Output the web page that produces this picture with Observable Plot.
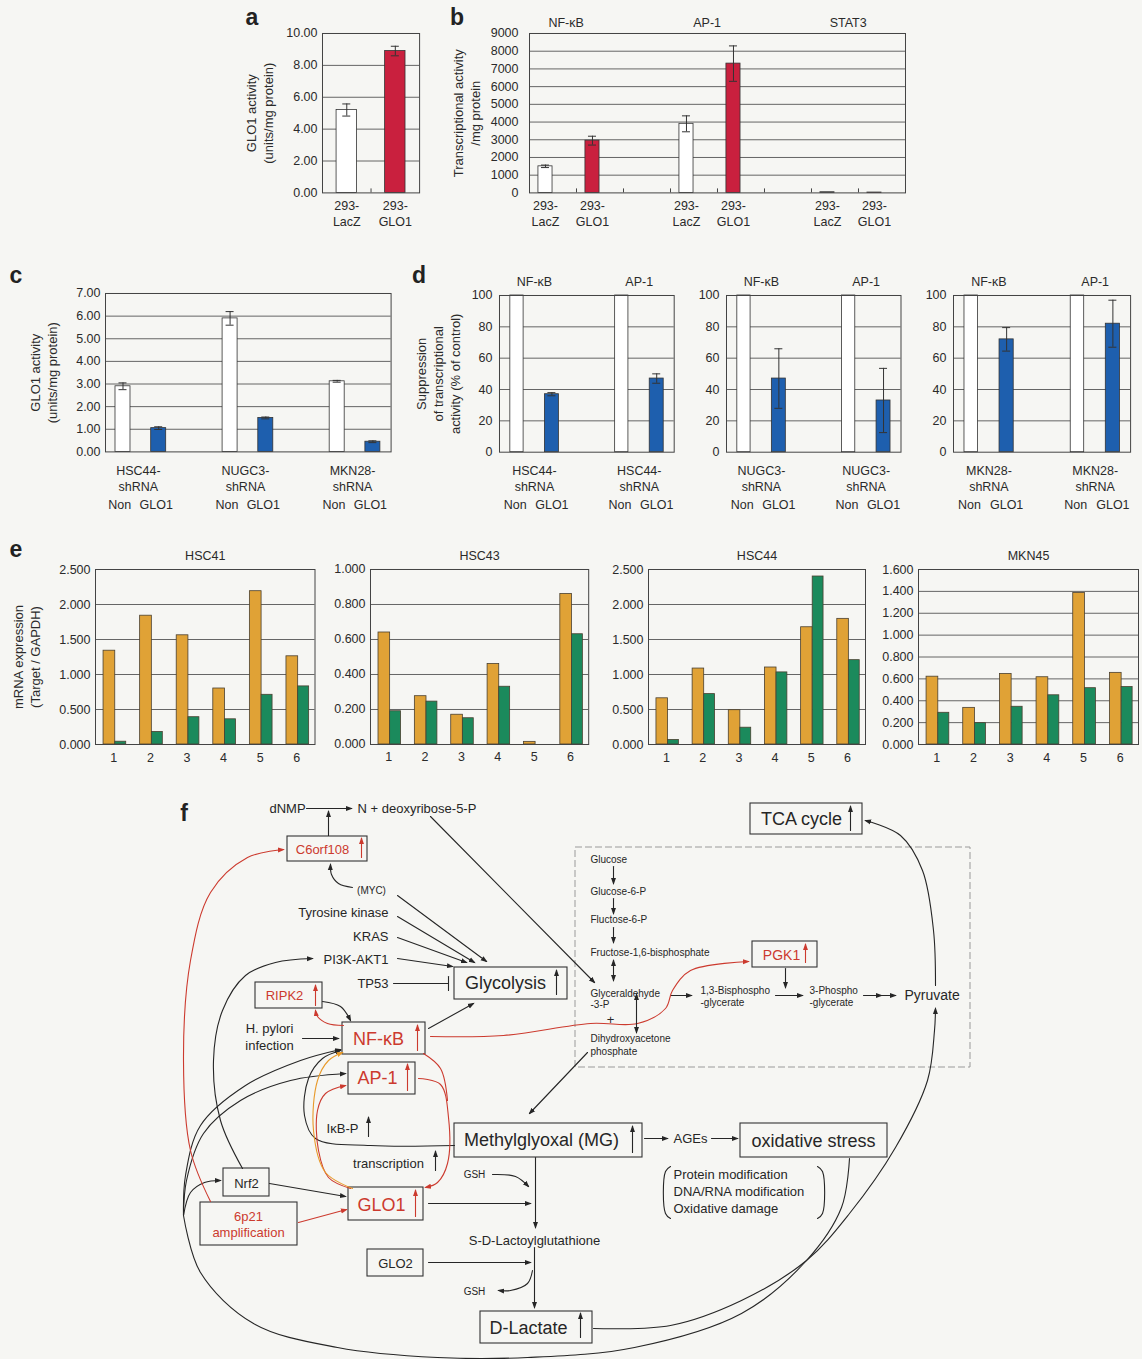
<!DOCTYPE html>
<html>
<head>
<meta charset="utf-8">
<script src="https://cdn.jsdelivr.net/npm/d3@7"></script>
<script src="https://cdn.jsdelivr.net/npm/@observablehq/plot@0.6"></script>
<style>
  html, body { margin: 0; padding: 0; background: #f6f6f3; overflow: hidden; }
  #page { position: relative; width: 1142px; height: 1359px; font-family: "Liberation Sans", Arial, Helvetica, sans-serif; color: #222; }
  .letter { position: absolute; font-weight: bold; font-size: 23px; line-height: 1; transform: translate(-50%, -50%); }
  svg { overflow: visible; }
</style>
</head>
<body>
<div id="page"></div>
<script>
// ---------------- DATA ----------------
// panel a
const aCats = ["293-\nLacZ", "293-\nGLO1"];
const aValues = [5.2, 8.9];
const aErrors = [0.38, 0.3];
// panel b
const bFactors = ["NF-κB", "AP-1", "STAT3"];
const bCells = ["293-\nLacZ", "293-\nGLO1"];
const bLacZ = [1500, 3900, 40];
const bLacZErr = [70, 450, 0];
const bGLO1 = [2950, 7300, 20];
const bGLO1Err = [250, 1000, 0];
// panel c
const cLines = ["HSC44-\nshRNA", "NUGC3-\nshRNA", "MKN28-\nshRNA"];
const cConds = ["Non", "GLO1"];
const cNon = [2.9, 5.9, 3.12];
const cNonErr = [0.15, 0.3, 0.04];
const cSh = [1.05, 1.5, 0.45];
const cShErr = [0.06, 0.04, 0.04];
// panel d
const dLines = ["HSC44-\nshRNA", "NUGC3-\nshRNA", "MKN28-\nshRNA"];
const dFactors = ["NF-κB", "AP-1"];
const dControl = 100;
const dNFkB = [37, 47, 72];
const dNFkBErr = [1, 19, 7.5];
const dAP1 = [47, 33, 82];
const dAP1Err = [3, 20.5, 15];
// panel e
const eLines = ["HSC41", "HSC43", "HSC44", "MKN45"];
const eSamples = ["1", "2", "3", "4", "5", "6"];
const eHSC41Orange = [1.34, 1.84, 1.56, 0.80, 2.19, 1.26];
const eHSC41Green  = [0.04, 0.18, 0.39, 0.36, 0.71, 0.83];
const eHSC43Orange = [0.64, 0.276, 0.17, 0.46, 0.015, 0.86];
const eHSC43Green  = [0.19, 0.245, 0.15, 0.33, 0, 0.63];
const eHSC44Orange = [0.66, 1.085, 0.49, 1.10, 1.675, 1.795];
const eHSC44Green  = [0.065, 0.72, 0.24, 1.03, 2.40, 1.205];
const eMKN45Orange = [0.62, 0.335, 0.645, 0.615, 1.385, 0.655];
const eMKN45Green  = [0.29, 0.195, 0.345, 0.45, 0.515, 0.525];
const eMax = [2.5, 1.0, 2.5, 1.6];
const eStep = [0.5, 0.2, 0.5, 0.2];

// panel f (diagram) : node texts, boxes and links
const fTextMiddle = [
  {t:"dNMP", x:287, y:808, s:13}, {t:"C6orf108", x:322, y:849, s:13, c:"red"},
  {t:"(MYC)", x:371, y:890, s:10}, {t:"Glycolysis", x:505, y:983, s:18},
  {t:"RIPK2", x:284, y:995, s:13, c:"red"}, {t:"H. pylori", x:269, y:1028, s:13},
  {t:"infection", x:269, y:1045, s:13}, {t:"NF-κB", x:378, y:1039, s:18, c:"red"},
  {t:"AP-1", x:377, y:1078, s:18, c:"red"}, {t:"IκB-P", x:342, y:1128, s:13},
  {t:"transcription", x:388, y:1163, s:13}, {t:"Methylglyoxal (MG)", x:541, y:1140, s:18},
  {t:"AGEs", x:690, y:1138, s:13}, {t:"oxidative stress", x:813, y:1141, s:18},
  {t:"GLO1", x:381, y:1205, s:18, c:"red"}, {t:"Nrf2", x:246, y:1183, s:13},
  {t:"6p21", x:248, y:1216, s:13, c:"red"}, {t:"amplification", x:248, y:1232, s:13, c:"red"},
  {t:"GSH", x:474, y:1174, s:10}, {t:"GSH", x:474, y:1291, s:10},
  {t:"S-D-Lactoylglutathione", x:534, y:1240, s:13}, {t:"GLO2", x:395, y:1263, s:13},
  {t:"D-Lactate", x:528, y:1328, s:18}, {t:"TCA cycle", x:801, y:819, s:18},
  {t:"PGK1", x:781, y:955, s:14, c:"red"}, {t:"+", x:610, y:1019, s:13}
];
const fTextStart = [
  {t:"N + deoxyribose-5-P", x:357, y:808, s:13},
  {t:"Protein modification", x:673, y:1174, s:13}, {t:"DNA/RNA modification", x:673, y:1191, s:13},
  {t:"Oxidative damage", x:673, y:1208, s:13},
  {t:"Glucose", x:590, y:859, s:10}, {t:"Glucose-6-P", x:590, y:891, s:10},
  {t:"Fluctose-6-P", x:590, y:919, s:10}, {t:"Fructose-1,6-bisphosphate", x:590, y:952, s:10},
  {t:"Glyceraldehyde", x:590, y:993, s:10}, {t:"-3-P", x:590, y:1004, s:10},
  {t:"Dihydroxyacetone", x:590, y:1038, s:10}, {t:"phosphate", x:590, y:1051, s:10},
  {t:"1,3-Bisphospho", x:700, y:990, s:10}, {t:"-glycerate", x:700, y:1002, s:10},
  {t:"3-Phospho", x:809, y:990, s:10}, {t:"-glycerate", x:809, y:1002, s:10},
  {t:"Pyruvate", x:904, y:995, s:14}
];
const fTextEnd = [
  {t:"Tyrosine kinase", x:388, y:912, s:13}, {t:"KRAS", x:388, y:936, s:13},
  {t:"PI3K-AKT1", x:388, y:959, s:13}, {t:"TP53", x:388, y:983, s:13}
];
const fBoxes = [
  {x1:287, y1:836, x2:367, y2:861}, {x1:454, y1:967, x2:567, y2:999},
  {x1:255, y1:982, x2:322, y2:1008}, {x1:342, y1:1022, x2:425, y2:1054},
  {x1:348, y1:1062, x2:415, y2:1094}, {x1:454, y1:1123, x2:642, y2:1157},
  {x1:740, y1:1123, x2:887, y2:1157}, {x1:348, y1:1187, x2:423, y2:1220},
  {x1:223, y1:1168, x2:269, y2:1196}, {x1:200, y1:1202, x2:297, y2:1245},
  {x1:367, y1:1249, x2:423, y2:1276}, {x1:480, y1:1311, x2:592, y2:1343},
  {x1:750, y1:803, x2:862, y2:834}, {x1:752, y1:941, x2:817, y2:967}
];
const fGlycolysisFrame = [{x1:575, y1:847, x2:970, y2:1067}];
const fLinks = [
  // black, arrow at end
  {a:"end", pts:[[306,808],[351,808]]},
  {a:"end", pts:[[328,835],[328,811]]},
  {a:"end", pts:[[352,887],[338,883],[331,874],[330,864]]},
  {a:"end", pts:[[397,895],[486,961]]},
  {a:"end", pts:[[397,916],[474,962]]},
  {a:"end", pts:[[397,937],[466,962]]},
  {a:"end", pts:[[397,958],[452,966]]},
  {a:"none", pts:[[393,983],[448,983]]},
  {a:"none", pts:[[448,976],[448,990]]},
  {a:"end", pts:[[322,1001],[340,1006],[350,1020]]},
  {a:"end", pts:[[302,1038],[338,1038]]},
  {a:"end", pts:[[428,1028],[473,1003]]},
  {a:"end", pts:[[430,816],[594,982]]},
  {a:"end", pts:[[587,1052],[529,1113]]},
  {a:"end", pts:[[613,866],[613,883]]},
  {a:"end", pts:[[613,898],[613,913]]},
  {a:"end", pts:[[613,927],[613,942]]},
  {a:"both", pts:[[613,960],[613,980]]},
  {a:"both", pts:[[636,994],[636,1032]]},
  {a:"end", pts:[[670,995],[691,995]]},
  {a:"end", pts:[[785,968],[785,987]]},
  {a:"end", pts:[[775,995],[802,995]]},
  {a:"end", pts:[[863,995],[881,995]]},
  {a:"end", pts:[[878,995],[895,995]]},
  {a:"end", pts:[[935,985],[933,930],[922,870],[900,835],[865,820]]},
  {a:"end", pts:[[593,1328],[670,1325],[741,1300],[806,1260],[849,1213],[895,1147],[927,1080],[934,1030],[935,1008]]},
  {a:"none", pts:[[849,1158],[841,1207],[806,1260],[741,1313],[634,1347],[527,1357],[437,1357],[337,1347],[253,1323],[200,1272],[183,1215]]},
  {a:"end", pts:[[183,1215],[190,1192],[204,1182],[220,1180]]},
  {a:"end", pts:[[183,1215],[186,1180],[203,1133],[240,1100],[290,1080],[345,1073]]},
  {a:"end", pts:[[183,1215],[185,1175],[200,1125],[245,1085],[300,1060],[340,1049]]},
  {a:"end", pts:[[242,1168],[220,1120],[213,1060],[222,1010],[245,975],[275,962],[312,958]]},
  {a:"end", pts:[[269,1183],[345,1196]]},
  {a:"end", pts:[[454,1145],[370,1145],[315,1138],[304,1115],[308,1078],[322,1058],[340,1050]]},
  {a:"end", pts:[[492,1174],[515,1176],[528,1186]]},
  {a:"end", pts:[[535,1157],[535,1227]]},
  {a:"end", pts:[[428,1203],[530,1203]]},
  {a:"end", pts:[[428,1262],[530,1262]]},
  {a:"end", pts:[[534,1247],[534,1307]]},
  {a:"end", pts:[[532,1270],[527,1283],[510,1290],[498,1290]]},
  {a:"end", pts:[[644,1138],[667,1138]]},
  {a:"end", pts:[[711,1138],[737,1138]]},
  {a:"none", pts:[[670,1166],[665,1171],[665,1213],[670,1218]]},
  {a:"none", pts:[[817,1166],[822,1171],[822,1213],[817,1218]]},
  // black up-arrows in boxes
  {a:"end", pts:[[556,994],[556,970]]},
  {a:"end", pts:[[632,1152],[632,1126]]},
  {a:"end", pts:[[580,1337],[580,1313]]},
  {a:"end", pts:[[850,830],[850,806]]},
  {a:"end", pts:[[368,1136],[368,1117]]},
  {a:"end", pts:[[435,1170],[435,1151]]},
  // red links
  {a:"end", c:"red", pts:[[361,857],[361,838]]},
  {a:"end", c:"red", pts:[[315,1005],[315,985]]},
  {a:"end", c:"red", pts:[[417,1050],[417,1025]]},
  {a:"end", c:"red", pts:[[407,1090],[407,1064]]},
  {a:"end", c:"red", pts:[[415,1216],[415,1190]]},
  {a:"end", c:"red", pts:[[805,962],[805,944]]},
  {a:"end", c:"red", pts:[[210,1201],[190,1150],[183,1060],[190,960],[210,892],[247,857],[283,849]]},
  {a:"end", c:"red", pts:[[430,1036],[503,1035],[590,1023],[637,1023],[665,1008],[672,990],[690,970],[748,961]]},
  {a:"end", c:"red", pts:[[343,1025],[327,1023],[317,1016],[315,1010]]},
  {a:"end", c:"red", pts:[[418,1078],[440,1084],[448,1117],[447,1163],[437,1182],[425,1187]]},
  {a:"none", c:"red", pts:[[423,1053],[440,1068],[447,1100]]},
  {a:"end", c:"red", pts:[[350,1188],[328,1177],[318,1150],[317,1110],[325,1093],[345,1085]]},
  {a:"end", c:"red", pts:[[298,1222],[346,1209]]},
  {a:"end", c:"orange", pts:[[352,1188],[325,1172],[313,1130],[317,1080],[328,1060],[342,1052]]}
];

// ---------------- STYLE / HELPERS ----------------
const FONT = "'Liberation Sans', Arial, Helvetica, sans-serif";
const RED = "#c9203e", BLUE = "#1e5fae", ORANGE = "#e0a236", GREEN = "#1b8a5c", WHITE = "#ffffff";
const INK = "#2a2a2a";
const DIAG = {red: "#cc3a2e", orange: "#e89a2a", black: "#262626"};
const page = document.getElementById("page");

function mount(node, left, top) {
  node.style.position = "absolute";
  node.style.left = left + "px";
  node.style.top = top + "px";
  page.appendChild(node);
}
function letter(t, x, y) {
  const d = document.createElement("div");
  d.className = "letter"; d.textContent = t;
  d.style.left = x + "px"; d.style.top = y + "px";
  page.appendChild(d);
}
const baseStyle = {fontFamily: FONT, fontSize: "12.5px", color: INK, background: "transparent", overflow: "visible"};

function barPanel(o) {
  const {L, R, T, B, n, yMax, yStep, fmt, bars, errs = [], marks = [], mL = 80, mR = 6, mT = 30, mB = 72,
         tickDx = -6, bounds = [], barStroke = "#333"} = o;
  const slotW = (R - L) / n, ph = B - T;
  const yTicks = d3.range(0, yMax + yStep / 2, yStep);
  const cap = 4 / slotW;
  const tickLen = 4 * yMax / ph;
  const plot = Plot.plot({
    width: R - L + mL + mR, height: ph + mT + mB,
    marginLeft: mL, marginRight: mR, marginTop: mT, marginBottom: mB,
    x: {domain: [0, n], axis: null},
    y: {domain: [0, yMax], axis: null},
    color: {type: "identity"},
    style: baseStyle,
    marks: [
      Plot.ruleY(yTicks.filter(v => v > 0), {stroke: "#555", strokeWidth: 0.9}),
      Plot.rect(bars, {x1: "x1", x2: "x2", y1: () => 0, y2: "v", fill: "fill", stroke: barStroke, strokeWidth: 0.8}),
      Plot.ruleX(errs, {x: "xc", y1: d => d.v - d.e, y2: d => d.v + d.e, stroke: "#333", strokeWidth: 1}),
      Plot.ruleY(errs, {y: d => d.v + d.e, x1: d => d.xc - cap, x2: d => d.xc + cap, stroke: "#333", strokeWidth: 1}),
      Plot.ruleY(errs, {y: d => d.v - d.e, x1: d => d.xc - cap, x2: d => d.xc + cap, stroke: "#333", strokeWidth: 1}),
      Plot.ruleX(bounds, {y1: 0, y2: tickLen, stroke: "#444"}),
      Plot.frame({stroke: "#444", strokeWidth: 1}),
      Plot.text(yTicks, {y: d => d, text: fmt, frameAnchor: "left", textAnchor: "end", dx: tickDx}),
      ...marks
    ]
  });
  mount(plot, L - mL, T - mT);
}
const yTitle = (txt, dx, lh = 1.3) => Plot.text([txt], {frameAnchor: "left", textAnchor: "middle", rotate: -90, dx, lineHeight: lh, fontSize: 13});
const catLabels = (data, dy = 6) => Plot.text(data, {x: "x", text: "t", frameAnchor: "bottom", lineAnchor: "top", dy, lineHeight: 1.25});

// ---------------- PANEL a ----------------
{
  const bars = aCats.map((c, i) => ({x1: i + 0.29, x2: i + 0.71, v: aValues[i], fill: i === 0 ? WHITE : RED}));
  const errs = aCats.map((c, i) => ({xc: i + 0.5, v: aValues[i], e: aErrors[i]}));
  barPanel({L: 322.4, R: 419.5, T: 33.3, B: 192.7, n: 2, yMax: 10, yStep: 2, fmt: d3.format(".2f"),
    bars, errs, bounds: [1], tickDx: -5, mL: 90,
    marks: [catLabels(aCats.map((t, i) => ({t, x: i + 0.5}))), yTitle("GLO1 activity\n(units/mg protein)", -63, 1.3)]});
}
// ---------------- PANEL b ----------------
{
  const bars = [], errs = [], labels = [], titles = [];
  bFactors.forEach((f, g) => {
    const s0 = g * 3, s1 = g * 3 + 1;
    bars.push({x1: s0 + 0.19, x2: s0 + 0.49, v: bLacZ[g], fill: WHITE});
    bars.push({x1: s1 + 0.19, x2: s1 + 0.49, v: bGLO1[g], fill: RED});
    if (bLacZErr[g] > 0) errs.push({xc: s0 + 0.34, v: bLacZ[g], e: bLacZErr[g]});
    if (bGLO1Err[g] > 0) errs.push({xc: s1 + 0.34, v: bGLO1[g], e: bGLO1Err[g]});
    labels.push({t: bCells[0], x: s0 + 0.34}, {t: bCells[1], x: s1 + 0.34});
    titles.push({t: f, x: s0 + 0.78});
  });
  barPanel({L: 529.2, R: 905.2, T: 33.3, B: 192.7, n: 8, yMax: 9000, yStep: 1000, fmt: d => String(d),
    bars, errs, bounds: d3.range(1, 8), tickDx: -11, mL: 80,
    marks: [catLabels(labels),
      Plot.text(titles, {x: "x", text: "t", frameAnchor: "top", dy: -15}),
      yTitle("Transcriptional activity\n/mg protein", -63, 1.3)]});
}
// ---------------- PANEL c ----------------
{
  const bars = [], errs = [], labels = [], conds = [];
  cLines.forEach((l, g) => {
    const s0 = g * 3, s1 = g * 3 + 1;
    bars.push({x1: s0 + 0.28, x2: s0 + 0.70, v: cNon[g], fill: WHITE});
    bars.push({x1: s1 + 0.28, x2: s1 + 0.70, v: cSh[g], fill: BLUE});
    errs.push({xc: s0 + 0.49, v: cNon[g], e: cNonErr[g]});
    errs.push({xc: s1 + 0.49, v: cSh[g], e: cShErr[g]});
    labels.push({t: l, x: s0 + 0.92});
    conds.push({t: cConds[0], x: s0 + 0.4}, {t: cConds[1], x: s1 + 0.42});
  });
  barPanel({L: 104.7, R: 390.3, T: 293.3, B: 451.7, n: 8, yMax: 7, yStep: 1, fmt: d3.format(".2f"),
    bars, errs, tickDx: -5, mL: 75,
    marks: [catLabels(labels, 12),
      Plot.text(conds, {x: "x", text: "t", frameAnchor: "bottom", dy: 57}),
      yTitle("GLO1 activity\n(units/mg protein)", -62, 1.3)]});
}
// ---------------- PANEL d ----------------
{
  const frames = [[499.3, 674], [726.3, 900.8], [952.7, 1129.8]];
  dLines.forEach((l, k) => {
    const bars = [], errs = [], labels = [], conds = [], titles = [];
    const vals = [dNFkB[k], dAP1[k]], ers = [dNFkBErr[k], dAP1Err[k]];
    dFactors.forEach((f, g) => {
      const s0 = g * 3, s1 = g * 3 + 1;
      bars.push({x1: s0 + 0.31, x2: s0 + 0.69, v: dControl, fill: WHITE});
      bars.push({x1: s1 + 0.3, x2: s1 + 0.7, v: vals[g], fill: BLUE});
      errs.push({xc: s1 + 0.5, v: vals[g], e: ers[g]});
      labels.push({t: l, x: s0 + 1});
      conds.push({t: "Non", x: s0 + 0.45}, {t: "GLO1", x: s1 + 0.5});
      titles.push({t: f, x: s0 + 1});
    });
    const marks = [catLabels(labels, 12),
      Plot.text(conds, {x: "x", text: "t", frameAnchor: "bottom", dy: 57}),
      Plot.text(titles, {x: "x", text: "t", frameAnchor: "top", dy: -18})];
    if (k === 0) marks.push(yTitle("Suppression\nof transcriptional\nactivity (% of control)", -62, 1.3));
    barPanel({L: frames[k][0], R: frames[k][1], T: 295, B: 451.7, n: 5, yMax: 100, yStep: 20, fmt: d => String(d),
      bars, errs, tickDx: -7, mL: k === 0 ? 85 : 45, marks});
  });
}
// ---------------- PANEL e ----------------
{
  const frames = [[95.4, 314.9], [370.2, 588.4], [648, 865], [918, 1138]];
  const oranges = [eHSC41Orange, eHSC43Orange, eHSC44Orange, eMKN45Orange];
  const greens = [eHSC41Green, eHSC43Green, eHSC44Green, eMKN45Green];
  eLines.forEach((l, k) => {
    const bars = [];
    eSamples.forEach((s, i) => {
      bars.push({x1: i + 0.22, x2: i + 0.54, v: oranges[k][i], fill: ORANGE});
      if (greens[k][i] > 0) bars.push({x1: i + 0.54, x2: i + 0.84, v: greens[k][i], fill: GREEN});
    });
    const marks = [
      Plot.text(eSamples.map((t, i) => ({t, x: i + 0.5})), {x: "x", text: "t", frameAnchor: "bottom", dy: 17}),
      Plot.text([l], {frameAnchor: "top", dy: -18})
    ];
    if (k === 0) marks.push(yTitle("mRNA expression\n(Target / GAPDH)", -69, 1.3));
    barPanel({L: frames[k][0], R: frames[k][1], T: 569.3, B: 744.3, n: 6, yMax: eMax[k], yStep: eStep[k],
      fmt: d3.format(".3f"), bars, tickDx: -5, mL: k === 0 ? 85 : 55, mB: 30, barStroke: "#4a4030", marks});
  });
}
// ---------------- PANEL f ----------------
function triMarker(color, context) {
  const doc = (context && context.document) || document;
  const ns = "http://www.w3.org/2000/svg";
  const m = doc.createElementNS(ns, "marker");
  m.setAttribute("viewBox", "-5 -5 10 10");
  m.setAttribute("markerWidth", "7");
  m.setAttribute("markerHeight", "7");
  m.setAttribute("markerUnits", "userSpaceOnUse");
  m.setAttribute("orient", "auto-start-reverse");
  m.setAttribute("refX", "3");
  m.setAttribute("fill", color);
  m.setAttribute("stroke", "none");
  const p = doc.createElementNS(ns, "path");
  p.setAttribute("d", "M-5,-3.6L5,0L-5,3.6Z");
  m.appendChild(p);
  return m;
}
function diagram(marker) {
  const colorOf = c => DIAG[c || "black"];
  const withIds = fLinks.map((p, id) => ({...p, id}));
  const lineOpts = {x: "x", y: "y", z: "id", stroke: "c", strokeWidth: 1.1, curve: "catmull-rom"};
  const mkData = a => withIds.filter(p => p.a === a).flatMap(p => p.pts.map(([x, y]) => ({id: p.id, c: colorOf(p.c), x, y})));
  const txt = (arr, anchor) => Plot.text(arr, {x: "x", y: "y", text: "t", fontSize: "s", fill: d => colorOf(d.c), textAnchor: anchor});
  return Plot.plot({
    width: 1142, height: 564, margin: 0,
    x: {domain: [0, 1142], range: [0, 1142], axis: null},
    y: {domain: [795, 1359], range: [0, 564], axis: null},
    color: {type: "identity"},
    style: {...baseStyle, fontSize: "13px"},
    marks: [
      Plot.rect(fGlycolysisFrame, {x1: "x1", y1: "y1", x2: "x2", y2: "y2", fill: "none", stroke: "#9a9a9a", strokeDasharray: "7,3", strokeWidth: 1}),
      Plot.rect(fBoxes, {x1: "x1", y1: "y1", x2: "x2", y2: "y2", fill: "none", stroke: "#333", strokeWidth: 1.1}),
      Plot.line(mkData("none"), lineOpts),
      Plot.line(mkData("end"), {...lineOpts, markerEnd: marker}),
      Plot.line(mkData("both"), {...lineOpts, markerStart: marker, markerEnd: marker}),
      txt(fTextMiddle, "middle"), txt(fTextStart, "start"), txt(fTextEnd, "end")
    ]
  });
}
let fPlot;
try { fPlot = diagram(triMarker); } catch (e) { fPlot = diagram("arrow"); }
mount(fPlot, 0, 795);

// panel letters
letter("a", 252, 17); letter("b", 457, 17);
letter("c", 16, 275); letter("d", 419, 275);
letter("e", 16, 549); letter("f", 184, 813);
</script>
</body>
</html>
